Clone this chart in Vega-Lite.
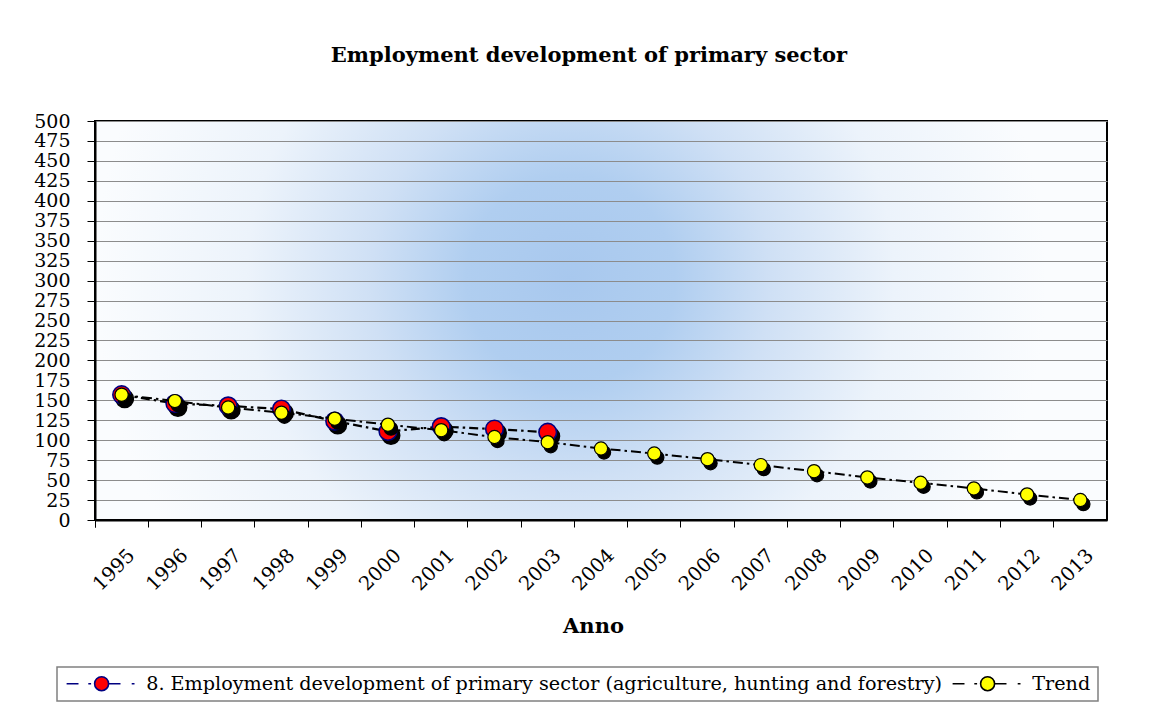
{
  "$schema": "https://vega.github.io/schema/vega-lite/v6.json",
  "autosize": "none",
  "width": 1012,
  "height": 399,
  "padding": {"left": 95, "top": 121, "right": 46, "bottom": 200},
  "background": "#ffffff",
  "title": {
    "text": "Employment development of primary sector",
    "font": "DejaVu Serif",
    "fontWeight": "bold",
    "fontSize": 21,
    "color": "#000000",
    "anchor": "middle",
    "frame": "group",
    "baseline": "alphabetic",
    "offset": 29,
    "dx": -12
  },
  "data": {
    "values": [
      {"year": "1995", "series": "8. Employment development of primary sector (agriculture, hunting and forestry)", "value": 157},
      {"year": "1996", "series": "8. Employment development of primary sector (agriculture, hunting and forestry)", "value": 146},
      {"year": "1997", "series": "8. Employment development of primary sector (agriculture, hunting and forestry)", "value": 143},
      {"year": "1998", "series": "8. Employment development of primary sector (agriculture, hunting and forestry)", "value": 139},
      {"year": "1999", "series": "8. Employment development of primary sector (agriculture, hunting and forestry)", "value": 124},
      {"year": "2000", "series": "8. Employment development of primary sector (agriculture, hunting and forestry)", "value": 111},
      {"year": "2001", "series": "8. Employment development of primary sector (agriculture, hunting and forestry)", "value": 117},
      {"year": "2002", "series": "8. Employment development of primary sector (agriculture, hunting and forestry)", "value": 114},
      {"year": "2003", "series": "8. Employment development of primary sector (agriculture, hunting and forestry)", "value": 110},
      {"year": "1995", "series": "Trend", "value": 157},
      {"year": "1996", "series": "Trend", "value": 149},
      {"year": "1997", "series": "Trend", "value": 141},
      {"year": "1998", "series": "Trend", "value": 134.5},
      {"year": "1999", "series": "Trend", "value": 127},
      {"year": "2000", "series": "Trend", "value": 119.5},
      {"year": "2001", "series": "Trend", "value": 112.5},
      {"year": "2002", "series": "Trend", "value": 104},
      {"year": "2003", "series": "Trend", "value": 97.5},
      {"year": "2004", "series": "Trend", "value": 89.6},
      {"year": "2005", "series": "Trend", "value": 83.3},
      {"year": "2006", "series": "Trend", "value": 76.2},
      {"year": "2007", "series": "Trend", "value": 68.8},
      {"year": "2008", "series": "Trend", "value": 61.2},
      {"year": "2009", "series": "Trend", "value": 53.3},
      {"year": "2010", "series": "Trend", "value": 46.7},
      {"year": "2011", "series": "Trend", "value": 39.6},
      {"year": "2012", "series": "Trend", "value": 32},
      {"year": "2013", "series": "Trend", "value": 25}
    ]
  },
  "encoding": {
    "x": {
      "field": "year",
      "type": "ordinal",
      "scale": {"type": "band", "paddingInner": 0, "paddingOuter": 0,
        "domain": ["1995","1996","1997","1998","1999","2000","2001","2002","2003","2004","2005","2006","2007","2008","2009","2010","2011","2012","2013"]},
      "axis": {
        "title": "Anno",
        "bandPosition": 0,
        "tickExtra": true,
        "labelAngle": -45,
        "labelAlign": "right",
        "labelBaseline": "middle",
        "labelOffset": 10,
        "labelPadding": 25,
        "labelFontSize": 19.5,
        "labelOverlap": false,
        "tickSize": 7,
        "titlePadding": 22,
        "titleX": 498,
        "titleAlign": "center",
        "grid": false
      }
    },
    "y": {
      "field": "value",
      "type": "quantitative",
      "scale": {"domain": [0, 500], "nice": false, "zero": true},
      "axis": {
        "title": null,
        "values": [0,25,50,75,100,125,150,175,200,225,250,275,300,325,350,375,400,425,450,475,500],
        "tickSize": 8,
        "labelPadding": 17,
        "labelFontSize": 19,
        "labelOverlap": false,
        "grid": true
      }
    }
  },
  "layer": [
    {
      "transform": [{"filter": "datum.series !== 'Trend'"}],
      "mark": {"type": "line", "stroke": "#000000", "strokeWidth": 2.2, "strokeDash": [9, 4, 2.5, 4]},
      "encoding": {}
    },
    {
      "transform": [{"filter": "datum.series !== 'Trend'"}],
      "mark": {"type": "point", "shape": "circle", "filled": true, "opacity": 1, "size": 310, "xOffset": 3, "yOffset": 4, "fill": "#000000", "stroke": "#000000", "strokeWidth": 1.5},
      "encoding": {}
    },
    {
      "transform": [{"filter": "datum.series !== 'Trend'"}],
      "mark": {"type": "point", "shape": "circle", "filled": true, "opacity": 1, "size": 310, "strokeWidth": 1.6},
      "encoding": {
        "fill": {"field": "series", "type": "nominal",
          "scale": {"domain": ["8. Employment development of primary sector (agriculture, hunting and forestry)", "Trend"], "range": ["#ff0000", "#ffff00"]},
          "legend": {"title": null, "orient": "none", "legendX": -38, "legendY": 546, "direction": "horizontal", "labelFont": "DejaVu Serif", "labelFontSize": 19.2, "labelLimit": 2000}},
        "stroke": {"field": "series", "type": "nominal",
          "scale": {"domain": ["8. Employment development of primary sector (agriculture, hunting and forestry)", "Trend"], "range": ["#000080", "#000000"]},
          "legend": {"title": null, "orient": "none", "legendX": -38, "legendY": 546, "direction": "horizontal", "labelFont": "DejaVu Serif", "labelFontSize": 19.2, "labelLimit": 2000}}
      }
    },
    {
      "transform": [{"filter": "datum.series === 'Trend'"}],
      "mark": {"type": "line", "stroke": "#000000", "strokeWidth": 2, "strokeDash": [10, 4, 2.5, 4]},
      "encoding": {}
    },
    {
      "transform": [{"filter": "datum.series === 'Trend'"}],
      "mark": {"type": "point", "shape": "circle", "filled": true, "opacity": 1, "size": 175, "xOffset": 3, "yOffset": 4, "fill": "#000000", "stroke": "#000000", "strokeWidth": 1.2},
      "encoding": {}
    },
    {
      "transform": [{"filter": "datum.series === 'Trend'"}],
      "mark": {"type": "point", "shape": "circle", "filled": true, "opacity": 1, "size": 175, "strokeWidth": 1.2},
      "encoding": {
        "fill": {"field": "series", "type": "nominal"},
        "stroke": {"field": "series", "type": "nominal"}
      }
    }
  ],
  "config": {
    "font": "DejaVu Serif",
    "view": {
      "stroke": "#000000",
      "strokeWidth": 2,
      "fill": {
        "gradient": "radial",
        "x1": 0.47, "y1": 0.46, "r1": 0,
        "x2": 0.47, "y2": 0.46, "r2": 0.47,
        "stops": [
          {"offset": 0, "color": "#a8c8ee"},
          {"offset": 0.22, "color": "#b0cef0"},
          {"offset": 0.42, "color": "#cfe0f5"},
          {"offset": 0.68, "color": "#ecf3fb"},
          {"offset": 1, "color": "#fafcfe"}
        ]
      }
    },
    "axis": {
      "labelFont": "DejaVu Serif",
      "labelFontSize": 19,
      "labelColor": "#000000",
      "domainColor": "#000000",
      "domainWidth": 2,
      "tickColor": "#000000",
      "tickWidth": 1,
      "gridColor": "#8c8c8c",
      "gridWidth": 1,
      "titleFont": "DejaVu Serif",
      "titleFontSize": 21,
      "titleFontWeight": "bold",
      "titleColor": "#000000"
    },
    "legend": {
      "strokeColor": "#808080",
      "strokeWidth": 1.5,
      "padding": 7,
      "labelFont": "DejaVu Serif",
      "labelFontSize": 19.2,
      "labelColor": "#000000",
      "labelLimit": 2000,
      "labelOffset": 63,
      "columnPadding": 6,
      "symbolType": "M-1,0L0.7,0M2.1,0L2.5,0M5,0L6.7,0M8.3,0L8.7,0M3,0A1,1 0 1,1 5,0A1,1 0 1,1 3,0Z",
      "symbolSize": 196,
      "symbolStrokeWidth": 1.6,
      "symbolOpacity": 1
    }
  }
}
